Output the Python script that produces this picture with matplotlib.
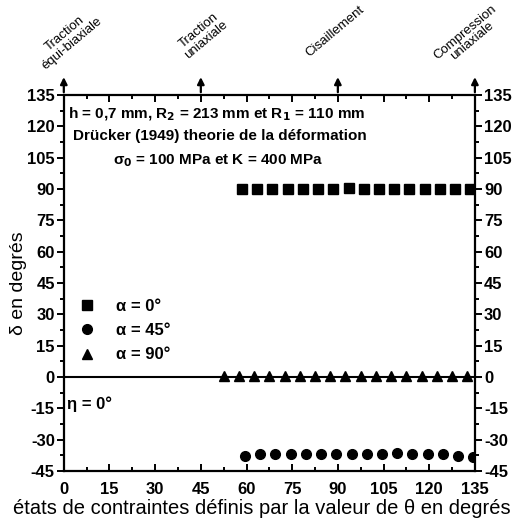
import matplotlib
matplotlib.use("Agg")
import matplotlib.pyplot as plt
import numpy as np

plt.rcParams['font.family'] = ['Liberation Sans', 'DejaVu Sans']
plt.rcParams['axes.unicode_minus'] = False

# data
theta_sq = [58.5, 63.5, 68.5, 73.5, 78.5, 83.5, 88.5, 93.5, 98.5, 103.5, 108.5, 113.5, 118.5, 123.5, 128.5, 133.5]
delta_sq = [90, 90, 90, 90, 90, 90, 90, 90.5, 90, 90, 90, 90, 90, 90, 90, 90]
theta_ci = [59.5, 64.5, 69.5, 74.5, 79.5, 84.5, 89.5, 94.5, 99.5, 104.5, 109.5, 114.5, 119.5, 124.5, 129.5, 134.5]
delta_ci = [-37.9, -37.1, -37.1, -36.8, -36.8, -36.8, -36.8, -36.8, -36.8, -36.8, -36.6, -37.1, -37.1, -37.1, -37.9, -38.2]
theta_tr = [52.5, 57.5, 62.5, 67.5, 72.5, 77.5, 82.5, 87.5, 92.5, 97.5, 102.5, 107.5, 112.5, 117.5, 122.5, 127.5, 132.5]
delta_tr = [0.3] * 17

xticks = [0, 15, 30, 45, 60, 75, 90, 105, 120, 135]
yticks = [-45, -30, -15, 0, 15, 30, 45, 60, 75, 90, 105, 120, 135]
states_x = [0, 45, 90, 135]
states_lbl = ["Traction\néqui-biaxiale", "Traction\nuniaxiale", "Cisaillement", "Compression\nuniaxiale"]
states_lbl_x = [1.5, 45.5, 89, 133]
states_lbl_y = [1.15, 1.16, 1.17, 1.155]

fig = plt.figure(figsize=(5.23, 5.25), dpi=100)
ax = fig.add_axes([0.122, 0.103, 0.786, 0.716])
ax.set_xlim(0, 135)
ax.set_ylim(-45, 135)

ax.axhline(0, color='black', lw=1.5, zorder=1)
ax.plot(theta_sq, delta_sq, 's', color='black', ms=6.5, ls='none', label='α = 0°')
ax.plot(theta_ci, delta_ci, 'o', color='black', ms=7, ls='none', label='α = 45°')
ax.plot(theta_tr, delta_tr, '^', color='black', ms=7, ls='none', label='α = 90°')

for s in ax.spines.values():
    s.set_linewidth(1.6)

ax.set_xticks(xticks)
ax.set_yticks(yticks)
ax.set_xticks(np.arange(0, 136, 7.5), minor=True)
ax.set_yticks(np.arange(-45, 136, 7.5), minor=True)
ax.tick_params(axis='both', which='both', direction='out', width=1.4,
               top=True, right=True, labelright=True, labelsize=12)
ax.tick_params(which='major', length=5)
ax.tick_params(which='minor', length=3)
ax.tick_params(axis='x', which='both', direction='in')
ax.tick_params(axis='x', pad=8)
ax.tick_params(axis='y', pad=1.5)
for lbl in ax.get_xticklabels() + ax.get_yticklabels():
    lbl.set_fontweight('bold')

ax.set_xlabel("états de contraintes définis par la valeur de θ en degrés", fontsize=14.5)
ax.xaxis.set_label_coords(0.482, -0.076)
ax.set_ylabel("δ en degrés", fontsize=14, labelpad=0)

ax.text(0.01, 0.95, "h = 0,7 mm, R$_\\mathbf{2}$ = 213 mm et R$_\\mathbf{1}$ = 110 mm",
        transform=ax.transAxes, fontsize=11, fontweight='bold', va='center', ha='left')
ax.text(0.022, 0.89, "Drücker (1949) theorie de la déformation",
        transform=ax.transAxes, fontsize=11, fontweight='bold', va='center', ha='left')
ax.text(0.12, 0.826, "σ$_\\mathbf{0}$ = 100 MPa et K = 400 MPa",
        transform=ax.transAxes, fontsize=11, fontweight='bold', va='center', ha='left')
ax.text(1, -13, "η = 0°", fontsize=12, fontweight='bold', va='center', ha='left')

leg = ax.legend(loc='upper left', bbox_to_anchor=(0.0, 0.475), frameon=False,
                prop={'weight': 'bold', 'size': 12}, handletextpad=0.75,
                labelspacing=0.55, borderaxespad=0, handlelength=2.0)

for xs, lab, lx, ly in zip(states_x, states_lbl, states_lbl_x, states_lbl_y):
    ax.annotate("", xy=(xs, 1.055), xytext=(xs, 1.0),
                xycoords=('data', 'axes fraction'), textcoords=('data', 'axes fraction'),
                arrowprops=dict(arrowstyle='-|>', color='black', lw=1.6, mutation_scale=10),
                annotation_clip=False)
    ax.text(lx, ly, lab, transform=ax.get_xaxis_transform(), rotation=40,
            ha='center', va='center', fontsize=9.5, multialignment='center',
            linespacing=1.0, clip_on=False)

fig.savefig("out.png", dpi=100)
